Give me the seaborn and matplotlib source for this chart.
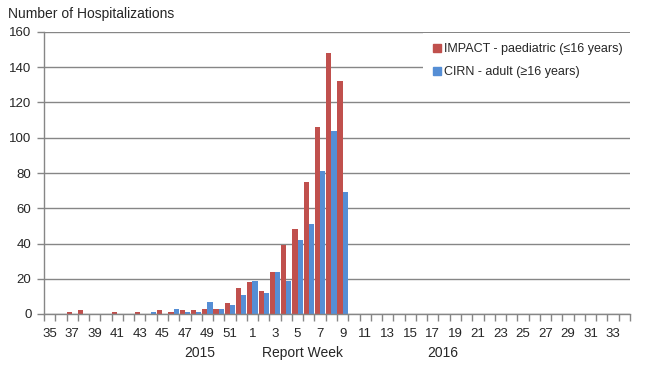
import pandas as pd
import seaborn as sns
import numpy as np
from matplotlib import pyplot as plt
from matplotlib.patches import Patch

# Report weeks: 2015 weeks 35-52, then 2016 weeks 1-34
weeks = [str(w) for w in range(35, 53)] + [str(w) for w in range(1, 35)]

# Hospitalizations per week
impact = [0, 0, 1, 2, 0, 0, 1, 0, 1, 0, 2, 1, 2, 2, 3, 3, 6, 15,
          18, 13, 24, 39, 48, 75, 106, 148, 132] + [0] * 25
cirn = [0, 0, 0, 0, 0, 0, 0, 0, 0, 1, 0, 3, 1, 1, 7, 3, 5, 11,
        19, 12, 24, 19, 42, 51, 81, 104, 69] + [0] * 25

series_names = ['IMPACT - paediatric (\u226416 years)', 'CIRN - adult (\u226516 years)']
colors = ['#C0504D', '#558ED5']

if __name__ == '__main__':

    df = pd.DataFrame({
        'week': weeks * 2,
        'count': impact + cirn,
        'series': [series_names[0]] * len(weeks) + [series_names[1]] * len(weeks),
    })

    sns.set_style('white')
    plt.rcParams['font.family'] = ['Liberation Sans', 'DejaVu Sans']
    grey = '#868686'

    fig = plt.figure(figsize=(6.5, 3.65), dpi=100)
    ax = fig.add_axes([44 / 650, 1 - 314 / 365, 586 / 650, 282 / 365])

    sns.barplot(data=df, x='week', y='count', hue='series', order=weeks,
                hue_order=series_names, palette=colors, width=0.92,
                saturation=1, linewidth=0, ax=ax, legend=False)

    ax.set_ylim(0, 160)
    ax.set_xlim(-0.5, len(weeks) - 0.5)
    ax.set_yticks(range(0, 161, 20))
    ax.yaxis.grid(True, color=grey, lw=1)
    ax.set_axisbelow(True)
    for s in ['top', 'right']:
        ax.spines[s].set_visible(False)
    for s in ['left', 'bottom']:
        ax.spines[s].set_color(grey)
        ax.spines[s].set_linewidth(1)

    # tick labels every other week, tick marks at category boundaries
    ax.set_xticks(range(len(weeks)))
    ax.set_xticklabels([w if i % 2 == 0 else '' for i, w in enumerate(weeks)])
    ax.set_xticks(np.arange(-0.5, len(weeks), 1), minor=True)
    ax.tick_params(axis='x', which='major', length=0, pad=10, labelsize=9.5)
    ax.tick_params(axis='x', which='minor', length=5, color=grey, width=1, direction='out', bottom=True)
    ax.tick_params(axis='y', length=5, color=grey, width=1, direction='out', left=True, labelsize=9.5, pad=4)
    ax.set_xlabel('')
    ax.set_ylabel('')

    handles = [Patch(color=c, label=n) for c, n in zip(colors, series_names)]
    leg = ax.legend(handles=handles, loc='upper right', bbox_to_anchor=(1.005, 0.995),
                    borderaxespad=0, frameon=True, fancybox=False, edgecolor='none',
                    facecolor='white', framealpha=1, handlelength=0.6, handleheight=0.6,
                    handletextpad=0.3, labelspacing=0.85, fontsize=9, borderpad=0.8)

    fig.text(8 / 650, 1 - 14 / 365, 'Number of Hospitalizations', fontsize=10, va='center', ha='left')
    fig.text(200 / 650, 1 - 353 / 365, '2015', fontsize=10, va='center', ha='center')
    fig.text(303 / 650, 1 - 353 / 365, 'Report Week', fontsize=10, va='center', ha='center')
    fig.text(443 / 650, 1 - 353 / 365, '2016', fontsize=10, va='center', ha='center')

    plt.savefig('out.png', dpi=100)
